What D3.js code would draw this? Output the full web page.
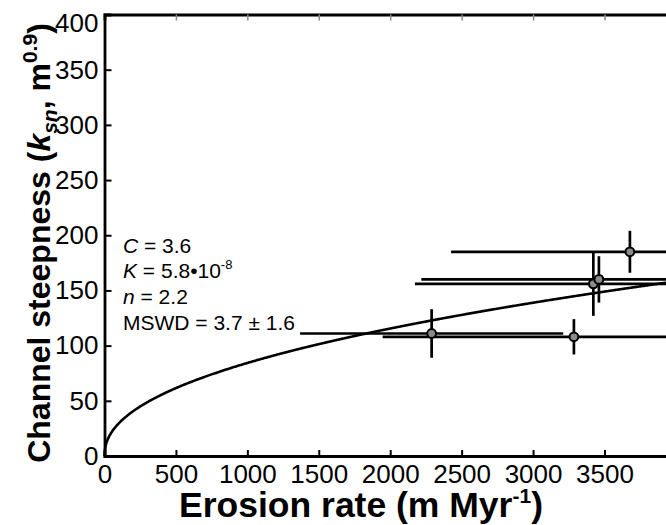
<!DOCTYPE html>
<html>
<head>
<meta charset="utf-8">
<script src="https://cdn.jsdelivr.net/npm/d3@7"></script>
<style>
  body { margin: 0; background: #fff; }
  svg { display: block; font-family: "Liberation Sans", Arial, sans-serif; }
</style>
</head>
<body>
<svg id="chart" width="666" height="525"></svg>
<script>
// samples: erosion rate (m/Myr) with 1-sigma, channel steepness with 1-sigma
var erosion    = [2290, 3286, 3422, 3461, 3678];
var erosionErr = [921, 1339, 1249, 1243, 1252];
var ksn        = [111, 108, 156, 160, 185];
var ksnErr     = [22, 16, 29, 21, 19];

// stream power fit parameters (shown in the annotation)
var fitC = 3.6, fitK = 5.8e-8, fitN = 2.2, mswd = "3.7 \u00b1 1.6";

var xTicks = [0, 500, 1000, 1500, 2000, 2500, 3000, 3500];
var yTicks = [0, 50, 100, 150, 200, 250, 300, 350, 400];

(function() {
  var svg = d3.select("#chart");
  var mLeft = 104.5, mTop = 14.5, mBottom = 456;

  var x = d3.scaleLinear().domain([0, 4000]).range([mLeft, mLeft + 571.4]);
  var y = d3.scaleLinear().domain([0, 400]).range([mBottom, mTop]);

  var g = svg.append("g");

  /* fitted curve: ksn = (E / K)^(1/n), E in m/yr */
  var curveX = d3.range(0, 4001, 5);
  var line = d3.line()
    .x(function(d) { return x(d); })
    .y(function(d) { return y(Math.pow(d * 1e-6 / fitK, 1 / fitN)); });
  g.append("path").datum(curveX)
    .attr("d", line)
    .attr("fill", "none").attr("stroke", "#000").attr("stroke-width", 2.6);

  /* error bars */
  var pts = erosion.map(function(e, i) {
    return { e: e, ee: erosionErr[i], k: ksn[i], ke: ksnErr[i] };
  });
  g.selectAll(".hbar").data(pts).enter().append("line")
    .attr("x1", function(d) { return x(d.e - d.ee); })
    .attr("x2", function(d) { return x(d.e + d.ee); })
    .attr("y1", function(d) { return y(d.k); })
    .attr("y2", function(d) { return y(d.k); })
    .attr("stroke", "#000").attr("stroke-width", 2.7);
  g.selectAll(".vbar").data(pts).enter().append("line")
    .attr("x1", function(d) { return x(d.e); })
    .attr("x2", function(d) { return x(d.e); })
    .attr("y1", function(d) { return y(d.k - d.ke); })
    .attr("y2", function(d) { return y(d.k + d.ke); })
    .attr("stroke", "#000").attr("stroke-width", 2.7);
  g.selectAll(".pt").data(pts).enter().append("circle")
    .attr("cx", function(d) { return x(d.e); })
    .attr("cy", function(d) { return y(d.k); })
    .attr("r", 4.4)
    .attr("fill", "#8a8a8a").attr("stroke", "#000").attr("stroke-width", 2);

  /* axes */
  var xAxis = svg.append("g").attr("transform", "translate(0," + mBottom + ")")
    .call(d3.axisBottom(x).tickValues(xTicks).tickSize(-6).tickPadding(9).tickFormat(d3.format("d")));
  var xTop = svg.append("g").attr("transform", "translate(0," + mTop + ")")
    .call(d3.axisTop(x).tickValues(xTicks.slice(1)).tickSize(-6).tickFormat(""));
  var yAxis = svg.append("g").attr("transform", "translate(" + mLeft + ",0)")
    .call(d3.axisLeft(y).tickValues(yTicks).tickSize(-7).tickPadding(6));

  [xAxis, xTop, yAxis].forEach(function(a) {
    a.select(".domain").attr("stroke-width", 2.8).attr("stroke", "#000");
    a.selectAll(".tick line").attr("stroke", "#000").attr("stroke-width", 2);
    a.selectAll("text").attr("font-size", 26).attr("fill", "#000")
      .attr("font-family", "Liberation Sans, Arial, sans-serif");
  });
  xTop.selectAll(".tick line").attr("stroke", "#888").attr("stroke-width", 1.5);
  xAxis.selectAll("text").attr("dy", "0.71em");
  yAxis.selectAll(".tick").filter(function(d) { return d === 400; })
    .select("text").attr("dy", "0.65em");

  /* axis titles */
  var xt = svg.append("text")
    .attr("x", 361).attr("y", 517)
    .attr("text-anchor", "middle")
    .attr("font-size", 35.5).attr("font-weight", "bold");
  xt.append("tspan").text("Erosion rate (m Myr");
  xt.append("tspan").attr("font-size", 21).attr("dy", -14).text("-1");
  xt.append("tspan").attr("dy", 14).text(")");

  var yt = svg.append("text")
    .attr("transform", "translate(50,243) rotate(-90)")
    .attr("text-anchor", "middle")
    .attr("font-size", 32).attr("font-weight", "bold");
  yt.append("tspan").text("Channel steepness  (");
  yt.append("tspan").attr("font-style", "italic").text("k");
  yt.append("tspan").attr("font-style", "italic").attr("font-size", 21).attr("dy", 7).text("sn");
  yt.append("tspan").attr("dy", -7).text(", m");
  yt.append("tspan").attr("font-size", 21).attr("dy", -13).text("0.9");
  yt.append("tspan").attr("dy", 13).text(")");

  /* annotation */
  var ann = svg.append("g").attr("font-size", 21);
  var t1 = ann.append("text").attr("x", 123).attr("y", 252.5);
  t1.append("tspan").attr("font-style", "italic").text("C");
  t1.append("tspan").text(" = " + fitC);
  var t2 = ann.append("text").attr("x", 123).attr("y", 278);
  t2.append("tspan").attr("font-style", "italic").text("K");
  t2.append("tspan").text(" = 5.8\u202210");
  t2.append("tspan").attr("font-size", 13).attr("dy", -9).text("-8");
  var t3 = ann.append("text").attr("x", 123).attr("y", 304);
  t3.append("tspan").attr("font-style", "italic").text("n");
  t3.append("tspan").text(" = " + fitN);
  ann.append("text").attr("x", 123).attr("y", 329.5).text("MSWD = " + mswd);
})();
</script>
</body>
</html>
